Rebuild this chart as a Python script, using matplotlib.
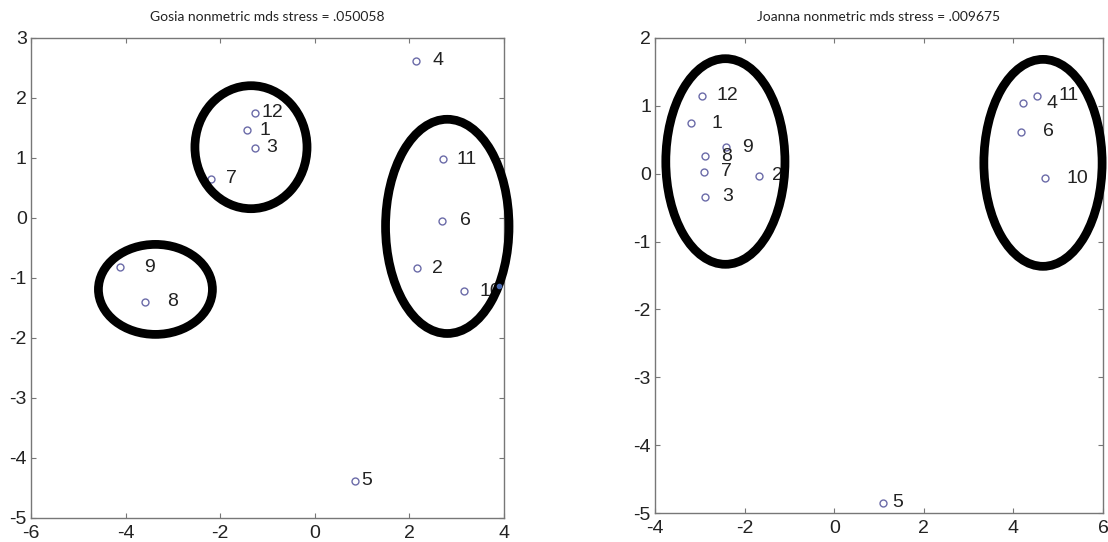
import numpy as np
import matplotlib.pyplot as plt
from matplotlib.patches import Ellipse

plt.rcParams['font.family'] = ['Liberation Sans', 'DejaVu Sans']
plt.rcParams['axes.unicode_minus'] = False

# Gosia panel
gosia_labels = ['1', '2', '3', '4', '5', '6', '7', '8', '9', '10', '11', '12']
gosia_x = [-1.44, 2.16, -1.26, 2.14, 0.84, 2.68, -2.19, -3.58, -4.11, 3.15, 2.71, -1.27]
gosia_y = [1.46, -0.835, 1.17, 2.62, -4.38, -0.045, 0.65, -1.40, -0.82, -1.22, 0.98, 1.755]
gosia_dx = [9.4, 11, 7.6, 11.5, 5, 13, 10.7, 15.8, 17, 11.2, 9.7, 4.6]
# circled groups: centre x, centre y, width, height
gosia_rings = [(-1.35, 1.18, 2.37, 2.05),
               (-3.37, -1.19, 2.41, 1.50),
               (2.80, -0.14, 2.61, 3.57)]
gosia_extra = (3.90, -1.14)

# Joanna panel
joanna_labels = ['1', '2', '3', '4', '5', '6', '7', '8', '9', '10', '11', '12']
joanna_x = [-3.20, -1.67, -2.88, 4.21, 1.09, 4.16, -2.90, -2.89, -2.41, 4.70, 4.53, -2.96]
joanna_y = [0.744, -0.03, -0.34, 1.04, -4.85, 0.62, 0.03, 0.26, 0.39, -0.07, 1.15, 1.15]
joanna_dx = [14.8, 8.9, 12.5, 17, 6.9, 16, 12.2, 11.7, 11.2, 15.8, 15.3, 10.4]
joanna_rings = [(-2.43, 0.18, 2.66, 3.03),
                (4.66, 0.16, 2.64, 3.05)]

fig = plt.figure(figsize=(11.08, 5.42), dpi=100)
ax1 = fig.add_axes([0.028, 0.0443, 0.4269, 0.8856])
ax2 = fig.add_axes([0.5912, 0.0535, 0.4043, 0.8764])

panels = [
    (ax1, gosia_x, gosia_y, gosia_labels, gosia_dx, gosia_rings,
     'Gosia nonmetric mds stress = .050058', (-6, 4), (-5, 3)),
    (ax2, joanna_x, joanna_y, joanna_labels, joanna_dx, joanna_rings,
     'Joanna nonmetric mds stress = .009675', (-4, 6), (-5, 2)),
]

for ax, xs, ys, labs, dxs, rings, title, xl, yl in panels:
    ax.plot(xs, ys, 'o', ms=5, mfc='none', mec='#6b6ba8', mew=1.0)
    for x, y, s, dx in zip(xs, ys, labs, dxs):
        ax.annotate(s, (x, y), xytext=(dx, 0), textcoords='offset points',
                    ha='left', va='center', fontsize=14, color='#222222')
    for cx, cy, w, h in rings:
        ax.add_patch(Ellipse((cx, cy), w, h, fill=False, ec='black',
                             lw=6.3, clip_on=False, zorder=3))
    ax.set_xlim(*xl)
    ax.set_ylim(*yl)
    ax.set_xticks(np.arange(xl[0], xl[1] + 1, 2))
    ax.set_yticks(np.arange(yl[0], yl[1] + 1, 1))
    ax.tick_params(direction='in', length=3.5, width=0.8, color='#777777',
                   top=True, right=True, labelsize=14, labelcolor='#222222')
    ax.tick_params(axis='x', pad=5)
    ax.tick_params(axis='y', pad=3)
    for sp in ax.spines.values():
        sp.set_color('#777777')
        sp.set_linewidth(1.0)
    ax.set_title(title, fontsize=10, family=['Lato', 'DejaVu Sans'],
                 color='#222222', pad=12)

ax1.plot(*gosia_extra, 'o', ms=3, color='#4a6ab0', clip_on=False, zorder=4)

fig.savefig('out.png', dpi=100)
